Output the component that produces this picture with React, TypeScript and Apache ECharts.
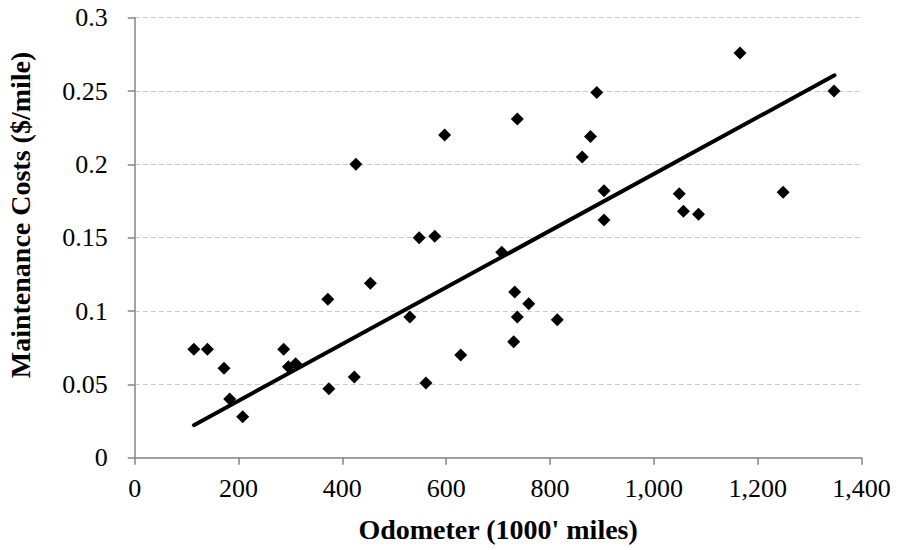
import React, { useEffect, useRef } from "react";
import * as echarts from "echarts";

const odometer = [114, 140, 172, 183, 208, 287, 296, 310, 372, 374, 423, 426, 454, 530, 548, 561, 578, 597, 628, 707, 730, 732, 737, 737, 759, 814, 862, 878, 890, 904, 904, 1049, 1057, 1086, 1166, 1249, 1347];
const costs = [0.074, 0.074, 0.061, 0.040, 0.028, 0.074, 0.062, 0.064, 0.108, 0.047, 0.055, 0.200, 0.119, 0.096, 0.150, 0.051, 0.151, 0.220, 0.070, 0.140, 0.079, 0.113, 0.096, 0.231, 0.105, 0.094, 0.205, 0.219, 0.249, 0.182, 0.162, 0.180, 0.168, 0.166, 0.276, 0.181, 0.250];
const trendX = [114, 1348];
const trendY = [0.0222, 0.2607];
const xTicks = [0, 200, 400, 600, 800, 1000, 1200, 1400];
const yTicks = [0, 0.05, 0.1, 0.15, 0.2, 0.25, 0.3];
const xTitle = "Odometer (1000' miles)";
const yTitle = "Maintenance Costs ($/mile)";

const FONT = '"Liberation Serif", "Times New Roman", serif';

export default function App() {
  const ref = useRef<HTMLDivElement>(null);
  useEffect(() => {
    if (!ref.current) return;
    const chart = echarts.init(ref.current, undefined, { renderer: "svg" });
    chart.setOption({
      animation: false,
      backgroundColor: "#ffffff",
      textStyle: { fontFamily: FONT },
      grid: { left: 134.7, right: 37.5, top: 17.7, bottom: 92.3, containLabel: false },
      graphic: [
        {
          type: "text",
          x: 20,
          y: 215,
          rotation: Math.PI / 2,
          style: {
            text: yTitle,
            font: `bold 28px ${FONT}`,
            fill: "#000",
            textAlign: "center",
            textVerticalAlign: "middle",
          },
        },
      ],
      xAxis: {
        type: "value",
        min: xTicks[0],
        max: xTicks[xTicks.length - 1],
        interval: xTicks[1] - xTicks[0],
        name: xTitle,
        nameLocation: "middle",
        nameGap: 58,
        nameTextStyle: { fontFamily: FONT, fontSize: 28, fontWeight: "bold", color: "#000" },
        axisLine: { show: true, lineStyle: { color: "#868686", width: 1.5 } },
        axisTick: { show: true, length: 7, inside: false, lineStyle: { color: "#868686", width: 1.5 } },
        axisLabel: {
          fontFamily: FONT,
          fontSize: 26,
          color: "#000",
          margin: 18,
          formatter: (v: number) => v.toLocaleString("en-US"),
        },
        splitLine: { show: false },
      },
      yAxis: {
        type: "value",
        min: yTicks[0],
        max: yTicks[yTicks.length - 1],
        interval: yTicks[1] - yTicks[0],
        axisLine: { show: true, lineStyle: { color: "#868686", width: 1.5 } },
        axisTick: { show: true, length: 7, inside: false, lineStyle: { color: "#868686", width: 1.5 } },
        axisLabel: {
          fontFamily: FONT,
          fontSize: 26,
          color: "#000",
          margin: 27,
          formatter: (v: number) => String(parseFloat(v.toFixed(2))),
        },
        splitLine: { show: true, lineStyle: { color: "#c8c8c8", type: [5, 3], width: 1 } },
      },
      series: [
        {
          type: "scatter",
          data: odometer.map((x, i) => [x, costs[i]]),
          symbol: "diamond",
          symbolSize: 13,
          itemStyle: { color: "#000", opacity: 1 },
          z: 2,
        },
        {
          type: "line",
          data: trendX.map((x, i) => [x, trendY[i]]),
          symbol: "none",
          lineStyle: { color: "#000", width: 4, cap: "round" },
          z: 3,
        },
      ],
    });
    return () => chart.dispose();
  }, []);
  return <div ref={ref} style={{ width: 899, height: 550, position: "absolute", left: 0, top: 0 }} />;
}
